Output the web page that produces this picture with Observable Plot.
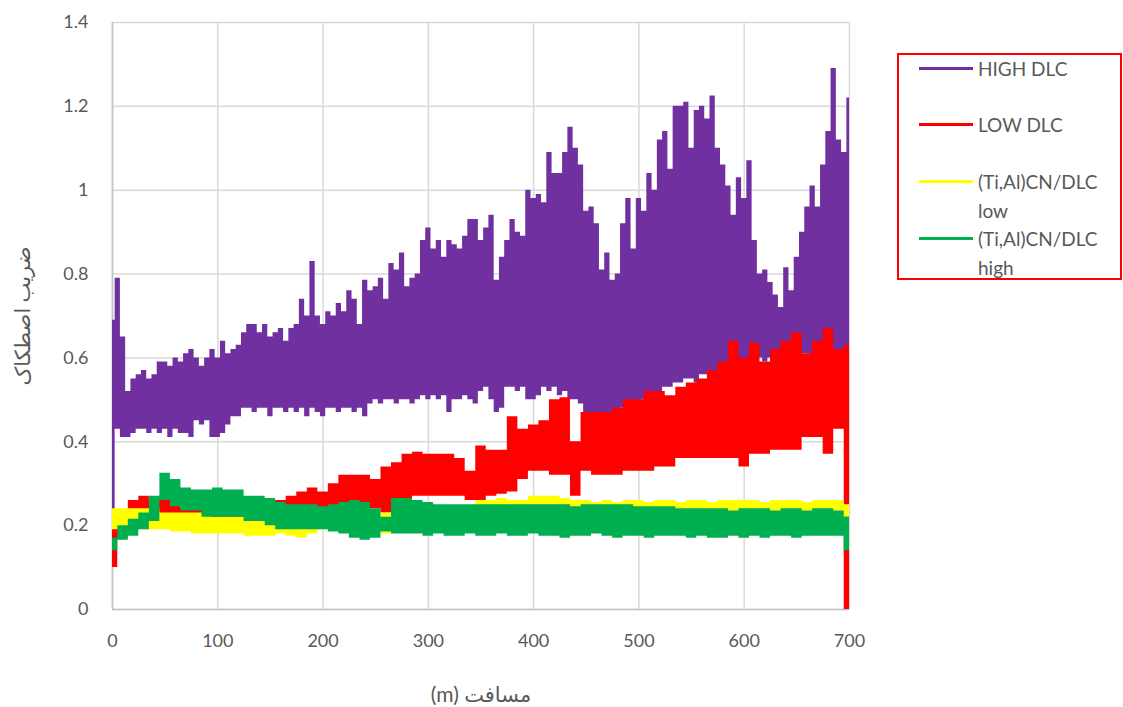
<!DOCTYPE html>
<html><head><meta charset="utf-8">
<script src="https://cdn.jsdelivr.net/npm/d3@7"></script>
<script src="https://cdn.jsdelivr.net/npm/@observablehq/plot@0.6"></script>
<style>
body{margin:0;background:#fff;}
#wrap{position:relative;width:1123px;height:707px;font-family:Lato,"DejaVu Sans",sans-serif;}
#legend{position:absolute;left:897px;top:53px;width:225px;height:227px;border:2px solid #ff0000;box-sizing:border-box;background:#fff;}
.item{position:absolute;left:0;width:100%;}
.sw{position:absolute;left:20px;width:54px;height:3px;}
.lab{position:absolute;left:79px;width:140px;font-size:19px;line-height:29px;color:#595959;}
g[aria-label="x-axis label"] text, g[aria-label="y-axis label"] text{font-size:21px;}
</style>
</head><body>
<div id="wrap"><div id="chart"></div><div id="legend"></div></div>
<script>
const xTicks = [0, 100, 200, 300, 400, 500, 600, 700];
const yTicks = [0, 0.2, 0.4, 0.6, 0.8, 1, 1.2, 1.4];
const xLabel = "(m) مسافت";
const yLabel = "ضریب اصطکاک";
const seriesNames = ["HIGH DLC", "LOW DLC", "(Ti,Al)CN/DLC low", "(Ti,Al)CN/DLC high"];
const seriesColors = ["#7030A0", "#FF0000", "#FFFF00", "#00B050"];

const distance5 = [0,5,10,15,20,25,30,35,40,45,50,55,60,65,70,75,80,85,90,95,
100,105,110,115,120,125,130,135,140,145,150,155,160,165,170,175,180,185,190,195,
200,205,210,215,220,225,230,235,240,245,250,255,260,265,270,275,280,285,290,295,
300,305,310,315,320,325,330,335,340,345,350,355,360,365,370,375,380,385,390,395,
400,405,410,415,420,425,430,435,440,445,450,455,460,465,470,475,480,485,490,495,
500,505,510,515,520,525,530,535,540,545,550,555,560,565,570,575,580,585,590,595,
600,605,610,615,620,625,630,635,640,645,650,655,660,665,670,675,680,685,690,695,700];
const distance10 = [0,10,20,30,40,50,60,70,80,90,100,110,120,130,140,150,160,170,180,190,
200,210,220,230,240,250,260,270,280,290,300,310,320,330,340,350,360,370,380,390,
400,410,420,430,440,450,460,470,480,490,500,510,520,530,540,550,560,570,580,590,
600,610,620,630,640,650,660,670,680,690,700];

// HIGH DLC (5 m grid): upper and lower envelope of the noisy trace
const highDlcUpper = [0.69,0.79,0.65,0.52,0.55,0.56,0.57,0.55,0.56,0.59,0.59,0.58,0.60,0.59,0.61,0.62,0.60,0.58,0.60,0.62,
0.60,0.64,0.61,0.62,0.63,0.66,0.68,0.68,0.66,0.68,0.65,0.66,0.67,0.64,0.67,0.68,0.74,0.70,0.83,0.70,
0.68,0.71,0.70,0.73,0.71,0.76,0.74,0.68,0.785,0.76,0.77,0.79,0.74,0.825,0.81,0.85,0.77,0.79,0.80,0.88,
0.91,0.86,0.88,0.84,0.88,0.87,0.86,0.89,0.93,0.93,0.88,0.91,0.94,0.785,0.84,0.88,0.93,0.90,0.89,1.00,
0.98,0.99,0.97,1.09,1.04,1.04,1.09,1.15,1.10,1.06,0.95,0.96,0.92,0.81,0.85,0.785,0.80,0.92,0.98,0.86,
0.98,0.95,1.04,1.00,1.12,1.14,1.05,1.20,1.20,1.21,1.10,1.19,1.20,1.17,1.225,1.10,1.06,1.01,0.94,1.03,
0.98,1.07,0.88,0.80,0.81,0.78,0.75,0.72,0.815,0.76,0.84,0.90,0.96,1.01,0.96,1.06,1.14,1.29,1.12,1.09,1.22];
const highDlcLower = [0.22,0.43,0.41,0.41,0.42,0.43,0.43,0.42,0.43,0.42,0.43,0.41,0.43,0.42,0.42,0.41,0.45,0.44,0.45,0.41,
0.41,0.42,0.44,0.46,0.46,0.48,0.48,0.47,0.48,0.48,0.46,0.48,0.48,0.47,0.48,0.47,0.48,0.46,0.48,0.47,
0.46,0.48,0.48,0.47,0.48,0.48,0.47,0.48,0.46,0.49,0.50,0.49,0.50,0.50,0.49,0.50,0.50,0.49,0.50,0.51,
0.50,0.51,0.50,0.51,0.47,0.50,0.50,0.51,0.50,0.49,0.52,0.53,0.50,0.47,0.48,0.53,0.53,0.52,0.53,0.50,
0.50,0.51,0.53,0.52,0.53,0.51,0.52,0.50,0.50,0.49,0.47,0.46,0.46,0.47,0.46,0.47,0.47,0.48,0.48,0.49,
0.49,0.50,0.50,0.51,0.52,0.53,0.53,0.54,0.54,0.55,0.55,0.54,0.56,0.56,0.57,0.57,0.58,0.58,0.58,0.59,
0.58,0.59,0.59,0.60,0.59,0.60,0.60,0.61,0.60,0.61,0.60,0.61,0.61,0.60,0.61,0.62,0.61,0.62,0.61,0.60,0.62];

// LOW DLC (10 m grid)
const lowDlcUpper = [0.20,0.22,0.26,0.27,0.26,0.27,0.26,0.24,0.24,0.24,
0.24,0.24,0.24,0.23,0.24,0.25,0.26,0.27,0.28,0.29,
0.28,0.30,0.32,0.32,0.32,0.31,0.34,0.35,0.37,0.375,
0.37,0.37,0.37,0.36,0.33,0.39,0.38,0.38,0.46,0.43,
0.44,0.45,0.50,0.505,0.40,0.47,0.47,0.47,0.48,0.50,
0.50,0.52,0.52,0.51,0.53,0.54,0.55,0.57,0.59,0.64,
0.60,0.635,0.59,0.62,0.64,0.66,0.61,0.64,0.67,0.62,0.63];
const lowDlcLower = [0.10,0.17,0.20,0.21,0.22,0.22,0.22,0.21,0.21,0.21,
0.21,0.21,0.21,0.21,0.21,0.22,0.23,0.23,0.24,0.24,
0.24,0.24,0.24,0.24,0.23,0.24,0.23,0.25,0.26,0.27,
0.27,0.27,0.27,0.27,0.26,0.26,0.27,0.275,0.28,0.31,
0.33,0.33,0.32,0.32,0.27,0.33,0.32,0.32,0.32,0.33,
0.33,0.33,0.34,0.34,0.36,0.36,0.36,0.36,0.36,0.36,
0.34,0.37,0.37,0.38,0.38,0.38,0.41,0.41,0.37,0.43,0.0];

// (Ti,Al)CN/DLC low (10 m grid)
const tiLowUpper = [0.24,0.24,0.24,0.24,0.24,0.23,0.23,0.23,0.23,0.23,
0.22,0.22,0.22,0.22,0.22,0.22,0.22,0.22,0.22,0.22,
0.22,0.22,0.22,0.22,0.22,0.22,0.23,0.22,0.22,0.22,
0.23,0.23,0.24,0.24,0.24,0.26,0.26,0.265,0.26,0.26,
0.27,0.27,0.27,0.265,0.26,0.26,0.255,0.26,0.255,0.26,
0.26,0.255,0.26,0.26,0.255,0.26,0.26,0.255,0.26,0.26,
0.26,0.26,0.255,0.26,0.26,0.26,0.255,0.26,0.26,0.26,0.25];
const tiLowLower = [0.19,0.19,0.19,0.19,0.19,0.19,0.185,0.185,0.18,0.18,
0.18,0.18,0.18,0.175,0.175,0.175,0.18,0.175,0.17,0.18,
0.19,0.19,0.19,0.19,0.19,0.19,0.18,0.19,0.19,0.19,
0.19,0.19,0.19,0.19,0.19,0.19,0.19,0.19,0.19,0.19,
0.19,0.19,0.19,0.19,0.19,0.19,0.19,0.19,0.19,0.19,
0.19,0.19,0.19,0.19,0.19,0.19,0.19,0.19,0.19,0.19,
0.19,0.19,0.19,0.19,0.19,0.19,0.19,0.19,0.19,0.19,0.22];

// (Ti,Al)CN/DLC high (10 m grid)
const tiHighUpper = [0.17,0.20,0.215,0.23,0.27,0.325,0.31,0.29,0.285,0.285,
0.29,0.285,0.285,0.27,0.27,0.265,0.255,0.25,0.25,0.25,
0.245,0.25,0.255,0.26,0.255,0.24,0.22,0.265,0.265,0.26,
0.255,0.25,0.25,0.25,0.25,0.25,0.25,0.25,0.25,0.25,
0.25,0.25,0.25,0.25,0.245,0.25,0.25,0.25,0.25,0.25,
0.245,0.245,0.245,0.245,0.24,0.24,0.24,0.24,0.24,0.235,
0.24,0.24,0.24,0.235,0.24,0.24,0.235,0.24,0.24,0.235,0.22];
const tiHighLower = [0.14,0.165,0.175,0.19,0.21,0.26,0.245,0.235,0.235,0.22,
0.22,0.22,0.22,0.21,0.21,0.20,0.19,0.19,0.19,0.19,
0.19,0.185,0.18,0.17,0.165,0.17,0.185,0.18,0.18,0.18,
0.175,0.18,0.175,0.175,0.18,0.175,0.175,0.18,0.175,0.175,
0.18,0.175,0.175,0.17,0.175,0.175,0.18,0.175,0.17,0.175,
0.175,0.17,0.175,0.175,0.175,0.17,0.175,0.17,0.17,0.175,
0.17,0.175,0.17,0.175,0.175,0.17,0.175,0.175,0.175,0.175,0.14];

const band = (xs, lo, hi) => xs.map((d, i) => ({d, lo: lo[i], hi: hi[i]}));
const bands = [
  band(distance5, highDlcLower, highDlcUpper),
  band(distance10, lowDlcLower, lowDlcUpper),
  band(distance10, tiLowLower, tiLowUpper),
  band(distance10, tiHighLower, tiHighUpper)
];

const font = 'Lato, "DejaVu Sans", sans-serif';
const chart = Plot.plot({
  width: 1123, height: 707,
  marginLeft: 112, marginRight: 274, marginTop: 22, marginBottom: 98,
  x: {domain: [xTicks[0], xTicks[xTicks.length - 1]]},
  y: {domain: [yTicks[0], yTicks[yTicks.length - 1]]},
  style: {fontFamily: font, fontSize: "18px", color: "#595959", background: "#fff", overflow: "visible"},
  marks: [
    Plot.gridX(xTicks, {stroke: "#d9d9d9", strokeOpacity: 1, strokeWidth: 1.5}),
    Plot.gridY(yTicks, {stroke: "#d9d9d9", strokeOpacity: 1, strokeWidth: 1.5}),
    Plot.ruleX([xTicks[0]], {stroke: "#c4c4c4", strokeWidth: 1.5}),
    Plot.ruleY([yTicks[0]], {stroke: "#c4c4c4", strokeWidth: 1.5}),
    ...bands.map((b, i) => Plot.areaY(b, {x: "d", y1: "lo", y2: "hi", fill: seriesColors[i], curve: "step"})),
    Plot.axisX(xTicks, {tickSize: 0, tickPadding: 25, tickFormat: d => `${d}`, label: xLabel, labelAnchor: "center", labelArrow: "none", labelOffset: 92, fill: "#595959"}),
    Plot.axisY(yTicks, {tickSize: 0, tickPadding: 24, tickFormat: d => `${d}`, label: yLabel, labelAnchor: "center", labelArrow: "none", labelOffset: 97, fill: "#595959"})
  ]
});
document.getElementById("chart").appendChild(chart);

const legend = document.getElementById("legend");
seriesNames.forEach((name, i) => {
  const item = document.createElement("div");
  item.className = "item";
  item.style.top = (-1.5 + i * 56.7) + "px";
  const sw = document.createElement("div");
  sw.className = "sw";
  sw.style.background = seriesColors[i];
  sw.style.top = "13px";
  const lab = document.createElement("div");
  lab.className = "lab";
  lab.textContent = name;
  item.appendChild(sw);
  item.appendChild(lab);
  legend.appendChild(item);
});
</script>
</body></html>
